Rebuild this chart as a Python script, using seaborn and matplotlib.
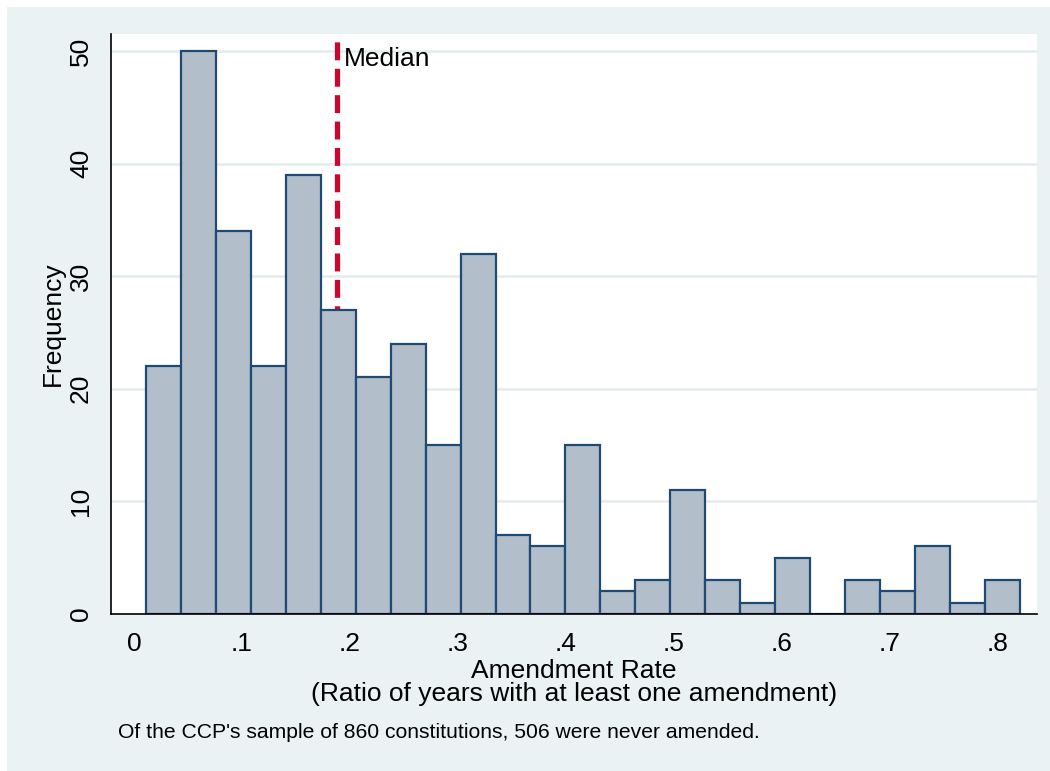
import pandas as pd
import matplotlib
matplotlib.use("Agg")
import matplotlib.pyplot as plt
from matplotlib.patches import Rectangle
import seaborn as sns

# histogram counts (constitutions with at least one amendment)
counts = [22, 50, 34, 22, 39, 27, 21, 24, 15, 32, 7, 6, 15, 2, 3, 11, 3, 1, 5, 0, 3, 2, 6, 1, 3]
bin_start = 0.0111
bin_width = 0.0324
median_rate = 0.188

x_ticks = [0, 0.1, 0.2, 0.3, 0.4, 0.5, 0.6, 0.7, 0.8]
x_ticklabels = ["0", ".1", ".2", ".3", ".4", ".5", ".6", ".7", ".8"]
y_ticks = [0, 10, 20, 30, 40, 50]

bg = "#EAF2F3"
bar_fill = "#B3BECB"
bar_edge = "#1E4A73"
median_color = "#C9082F"
fs = 19

sns.set_style("white")
plt.rcParams['font.family'] = ['Liberation Sans', 'DejaVu Sans']
plt.rcParams['text.color'] = 'black'
plt.rcParams['axes.labelcolor'] = 'black'
plt.rcParams['xtick.color'] = 'black'
plt.rcParams['ytick.color'] = 'black'

edges = [bin_start + bin_width * i for i in range(len(counts) + 1)]
df = pd.DataFrame({"rate": [(edges[i] + edges[i + 1]) / 2 for i in range(len(counts))],
                   "n": counts})

fig = plt.figure(figsize=(10.5, 7.71), dpi=100)
fig.patch.set_facecolor("white")
# Stata-like graph region (light bluish background inside a thin white margin)
fig.patches.append(Rectangle((7 / 1050, 0), 1, 1 - 7 / 771, transform=fig.transFigure,
                             facecolor=bg, edgecolor="none", zorder=-5))

ax = fig.add_axes([111 / 1050, 1 - 614 / 771, (1037 - 111) / 1050, (614 - 34) / 771])
ax.set_facecolor("white")

ax.axvline(median_rate, color=median_color, lw=3.8, dashes=(3.4, 1.6), zorder=1)

sns.histplot(data=df, x="rate", weights="n", bins=edges, ax=ax, stat="count",
             color=bar_fill, alpha=1, edgecolor=bar_edge, linewidth=1.6, zorder=2)

ax.text(median_rate + 0.007, 49.3, "Median", fontsize=fs, va="center", ha="left", zorder=3)

ax.set_xlim(-0.0213, 0.837)
ax.set_ylim(0, 51.5)

ax.set_yticks(y_ticks)
ax.set_yticklabels([str(v) for v in y_ticks], rotation=90, va="center", fontsize=fs)
ax.set_xticks(x_ticks)
ax.set_xticklabels(x_ticklabels, fontsize=fs)
ax.tick_params(axis="both", direction="out", length=8, width=1.2, color="black", pad=5)

for v in y_ticks[1:]:
    ax.axhline(v, color="#E4ECEF", lw=1.8, zorder=0)

for s in ["top", "right"]:
    ax.spines[s].set_visible(False)
for s in ["left", "bottom"]:
    ax.spines[s].set_color("black")
    ax.spines[s].set_linewidth(1.2)

ax.set_xlabel("Amendment Rate\n(Ratio of years with at least one amendment)",
              fontsize=fs, linespacing=0.95, labelpad=2)
ax.set_ylabel("Frequency", fontsize=fs, labelpad=3)

fig.text(118 / 1050, 1 - 733 / 771, "Of the CCP's sample of 860 constitutions, 506 were never amended.",
         fontsize=15.2, va="center", ha="left")

fig.savefig("out.png", dpi=100)
